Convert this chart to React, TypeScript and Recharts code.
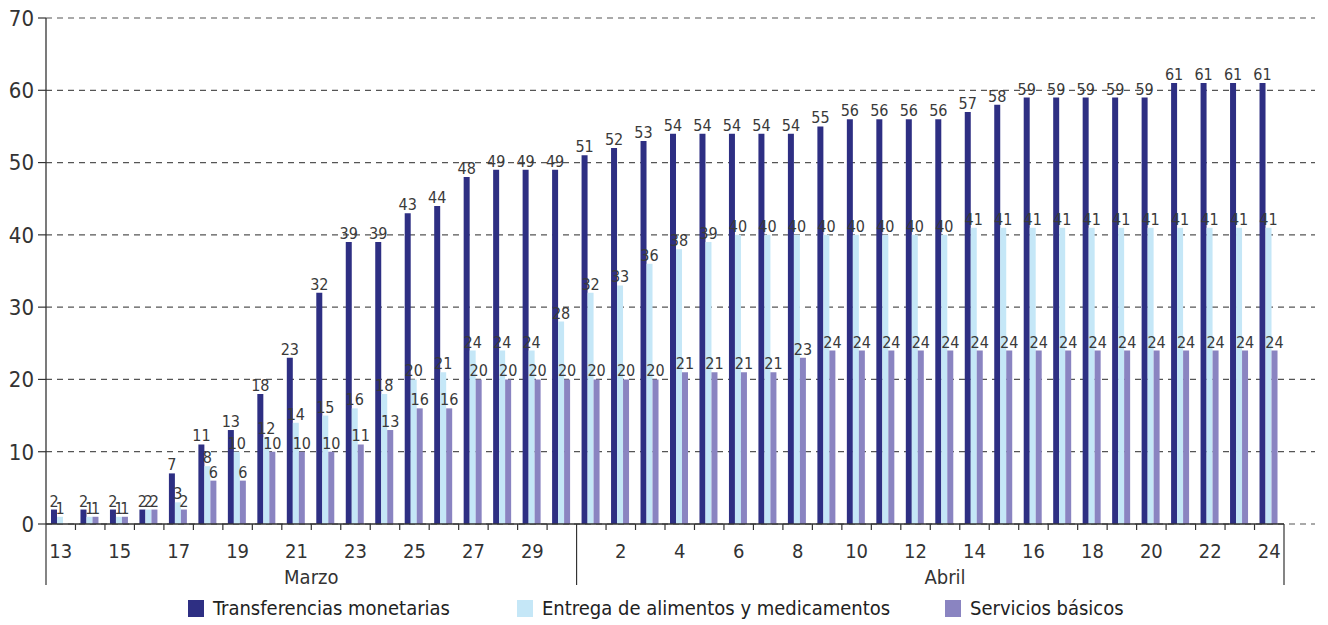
import { Bar, BarChart, CartesianGrid, LabelList, XAxis, YAxis } from "recharts";

const FONT = "'Liberation Sans Narrow', 'DejaVu Sans Condensed', 'Roboto Condensed', sans-serif";
const INK = "#333333";

// Days on the axis
const marchDays = [13, 14, 15, 16, 17, 18, 19, 20, 21, 22, 23, 24, 25, 26, 27, 28, 29, 30];
const aprilDays = [1, 2, 3, 4, 5, 6, 7, 8, 9, 10, 11, 12, 13, 14, 15, 16, 17, 18, 19, 20, 21, 22, 23, 24];
const marchTicks = [13, 15, 17, 19, 21, 23, 25, 27, 29];
const aprilTicks = [2, 4, 6, 8, 10, 12, 14, 16, 18, 20, 22, 24];

// Series values (March 13 .. April 24)
const transferencias = [
  2, 2, 2, 2, 7, 11, 13, 18, 23, 32, 39, 39, 43, 44, 48, 49, 49, 49,
  51, 52, 53, 54, 54, 54, 54, 54, 55, 56, 56, 56, 56, 57, 58, 59, 59, 59, 59, 59, 61, 61, 61, 61,
];
const alimentos = [
  1, 1, 1, 2, 3, 8, 10, 12, 14, 15, 16, 18, 20, 21, 24, 24, 24, 28,
  32, 33, 36, 38, 39, 40, 40, 40, 40, 40, 40, 40, 40, 41, 41, 41, 41, 41, 41, 41, 41, 41, 41, 41,
];
const servicios = [
  0, 1, 1, 2, 2, 6, 6, 10, 10, 10, 11, 13, 16, 16, 20, 20, 20, 20,
  20, 20, 20, 21, 21, 21, 21, 23, 24, 24, 24, 24, 24, 24, 24, 24, 24, 24, 24, 24, 24, 24, 24, 24,
];
const yTicks = [0, 10, 20, 30, 40, 50, 60, 70];

const SERIES = [
  { key: "transferencias", name: "Transferencias monetarias", color: "#2e2f83" },
  { key: "alimentos", name: "Entrega de alimentos y medicamentos", color: "#c5e7f7" },
  { key: "servicios", name: "Servicios básicos", color: "#8a84c1" },
];

const days = [
  ...marchDays.map((d) => ({ month: "Marzo", day: d, shown: marchTicks.includes(d) })),
  ...aprilDays.map((d) => ({ month: "Abril", day: d, shown: aprilTicks.includes(d) })),
];
const data = days.map((d, i) => ({
  key: `${d.month}-${d.day}`,
  ...d,
  transferencias: transferencias[i],
  alimentos: alimentos[i],
  servicios: servicios[i],
}));
const byKey = new Map(data.map((d, i) => [d.key, { ...d, index: i }]));

const W = 1328;
const H = 625;
const MARGIN = { top: 18, right: 13, left: 0, bottom: 0 };
const Y_W = 46;
const X_H = 101;
const PAD_R = 31;
const BAND = (W - MARGIN.left - MARGIN.right - Y_W - PAD_R) / data.length;

function DayTick(props: any) {
  const { x, y, payload } = props;
  const d = byKey.get(payload.value);
  if (!d) return null;
  const left = x - BAND / 2;
  const prev = data[d.index - 1];
  const monthStart = !prev || prev.month !== d.month;
  const isLast = d.index === data.length - 1;
  // month label: Marzo centred on its span, Abril as printed (under the 13th)
  const monthDays = data.filter((r) => r.month === d.month);
  const midIdx = Math.floor((monthDays.length - 1) / 2);
  const showMonth =
    d.month === "Marzo" ? monthDays[midIdx].key === d.key : d.day === 13;
  const monthX = d.month === "Marzo" && monthDays.length % 2 === 0 ? x + BAND / 2 : x;
  return (
    <g>
      {d.index === 0 && (
        <line x1={left} x2={left + BAND * data.length} y1={y} y2={y} stroke={INK} strokeWidth={1.3} />
      )}
      <line x1={left} x2={left} y1={y} y2={y + (monthStart ? 61 : 6)} stroke={INK} strokeWidth={1.2} />
      {isLast && <line x1={x + BAND / 2} x2={x + BAND / 2} y1={y} y2={y + 61} stroke={INK} strokeWidth={1.2} />}
      {d.shown && (
        <text x={x} y={y + 34} textAnchor="middle" fontSize={20} fontFamily={FONT} fill={INK}>
          {d.day}
        </text>
      )}
      {showMonth && (
        <text x={monthX} y={y + 60} textAnchor="middle" fontSize={20} fontFamily={FONT} fill={INK}>
          {d.month}
        </text>
      )}
    </g>
  );
}

export default function App() {
  return (
    <div style={{ position: "absolute", left: 0, top: 0, width: W, height: H, background: "#fff" }}>
      <BarChart width={W} height={H} data={data} margin={MARGIN} barCategoryGap={5} barGap={0}>
        <CartesianGrid horizontal vertical={false} stroke="#555" strokeDasharray="6 5" strokeWidth={1.2} />
        <XAxis
          dataKey="key"
          height={X_H}
          interval={0}
          axisLine={false}
          tickLine={false}
          tickSize={0}
          tickMargin={0}
          padding={{ left: 0, right: PAD_R }}
          tick={<DayTick />}
        />
        <YAxis
          width={Y_W}
          domain={[0, 70]}
          ticks={yTicks}
          interval={0}
          axisLine={{ stroke: INK, strokeWidth: 1.3 }}
          tickLine={{ stroke: INK, strokeWidth: 1.2 }}
          tickSize={8}
          tickMargin={4}
          tick={{ fontSize: 22, fontFamily: FONT, fill: INK }}
        />
        {SERIES.map((s) => (
          <Bar key={s.key} dataKey={s.key} name={s.name} fill={s.color} isAnimationActive={false}>
            <LabelList dataKey={s.key} position="top" offset={3} fontSize={16} fontFamily={FONT} fill="#3a3a3a" />
          </Bar>
        ))}
      </BarChart>
      <div
        style={{
          position: "absolute",
          left: 188,
          top: 597,
          display: "grid",
          gridTemplateColumns: "329px 428px auto",
          fontFamily: FONT,
          fontSize: 20,
          color: "#222",
          lineHeight: "22px",
        }}
      >
        {SERIES.map((s) => (
          <div key={s.key} style={{ display: "flex", alignItems: "center", whiteSpace: "nowrap" }}>
            <span style={{ width: 16, height: 17, background: s.color, marginRight: 9, display: "inline-block" }} />
            <span>{s.name}</span>
          </div>
        ))}
      </div>
    </div>
  );
}
